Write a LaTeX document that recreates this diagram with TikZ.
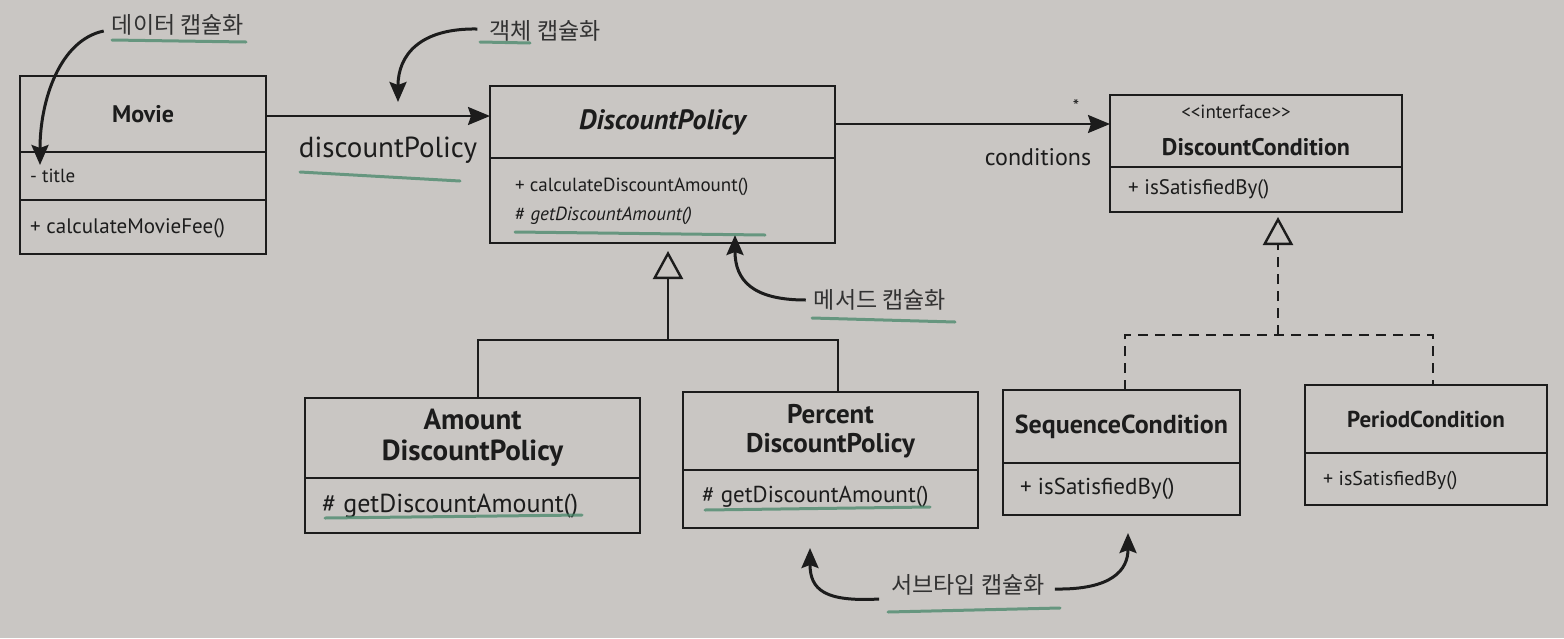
\documentclass[tikz,border=0pt]{standalone}
\usepackage{fontspec}
\setmainfont{PT Sans}
\newfontfamily\kr{Noto Sans CJK KR}
\usetikzlibrary{arrows.meta,calc}
\definecolor{bg}{RGB}{201,198,195}
\definecolor{ink}{RGB}{28,28,28}
\definecolor{kink}{RGB}{50,50,50}
\definecolor{hl}{RGB}{70,135,105}
\newcommand{\fs}[1]{\fontsize{#1}{#1}\selectfont}
\begin{document}
\begin{tikzpicture}[x=1pt,y=-1pt,
  comp/.style={draw=ink, line width=2.4pt, anchor=north west, inner sep=0pt, outer sep=0pt, text=ink},
  ctitle/.style={comp, font=\bfseries\fs{#1}},
  member/.style={anchor=west, inner sep=0pt, text=ink, font=\fs{#1}},
  kor/.style={inner sep=0pt, text=kink, font=\kr\fs{23}},
  lbl/.style={inner sep=0pt, text=ink, font=\fs{#1}},
  line/.style={draw=ink, line width=2.4pt},
  assoc/.style={line, -{Stealth[length=22pt,width=18pt,inset=3pt]}},
  gen/.style={line, -{Triangle[length=28pt,width=30pt,fill=bg]}},
  dline/.style={line, dash pattern=on 10pt off 7pt},
  curv/.style={draw=ink, line width=3pt, -{Stealth[length=20pt,width=17pt,inset=3pt]}},
  hlmark/.style={draw=hl, line width=3pt, opacity=0.75, line cap=round}
]
\useasboundingbox (0,0) rectangle (1564,638);
\fill[bg] (0,0) rectangle (1564,638);

% Movie
\node[ctitle=24, minimum width=246pt, minimum height=76pt] (movieT) at (20,76) {Movie};
\node[comp, minimum width=246pt, minimum height=48pt] (movieA) at (20,152) {};
\node[comp, minimum width=246pt, minimum height=54pt] (movieM) at (20,200) {};
\node[member=19] (movieA1) at (30,176) {- title};
\node[member=21] (movieM1) at (30,228) {+ calculateMovieFee()};

% DiscountPolicy
\node[comp, font=\bfseries\itshape\fs{28}, minimum width=345pt, minimum height=72pt] (dpT) at (490,86) {DiscountPolicy};
\node[comp, minimum width=345pt, minimum height=85pt] (dpM) at (490,158) {};
\node[member=19] (dpM1) at (515,187) {+ calculateDiscountAmount()};
\node[member=19] (dpM2) at (515,216) {\# \textit{getDiscountAmount()}};

% DiscountCondition
\node[comp, minimum width=292pt, minimum height=72pt] (dcT) at (1110,95) {};
\node[lbl=19] (dcS) at (1236,112) {{<}{<}interface{>}{>}};
\node[lbl=24, font=\bfseries\fs{24}] (dcN) at (1256,147) {DiscountCondition};
\node[comp, minimum width=292pt, minimum height=45pt] (dcM) at (1110,167) {};
\node[member=21] (dcM1) at (1128,189) {+ isSatisfiedBy()};

% AmountDiscountPolicy
\node[ctitle=29, align=center, minimum width=335pt, minimum height=80pt] (amT) at (305,398) {Amount\\[2pt]DiscountPolicy};
\node[comp, minimum width=335pt, minimum height=55pt] (amM) at (305,478) {};
\node[member=26] (amM1) at (322,506) {\# getDiscountAmount()};

% PercentDiscountPolicy
\node[ctitle=27, align=center, minimum width=295pt, minimum height=78pt] (peT) at (683,392) {Percent\\[2pt]DiscountPolicy};
\node[comp, minimum width=295pt, minimum height=58pt] (peM) at (683,470) {};
\node[member=23] (peM1) at (702,497) {\# getDiscountAmount()};

% SequenceCondition
\node[ctitle=26, minimum width=237pt, minimum height=73pt] (sqT) at (1003,390) {SequenceCondition};
\node[comp, minimum width=237pt, minimum height=52pt] (sqM) at (1003,463) {};
\node[member=23] (sqM1) at (1020,489) {+ isSatisfiedBy()};

% PeriodCondition
\node[ctitle=23, minimum width=242pt, minimum height=68pt] (prT) at (1305,385) {PeriodCondition};
\node[comp, minimum width=242pt, minimum height=52pt] (prM) at (1305,453) {};
\node[member=20] (prM1) at (1323,481) {+ isSatisfiedBy()};

% associations
\draw[assoc] ($(movieT.north east)+(0,40)$) -- ($(dpT.north west)+(0,30)$);
\node[lbl=29] (dpLbl) at (388,150) {discountPolicy};
\draw[assoc] ($(dpT.north east)+(0,38)$) -- ($(dcT.north west)+(0,29)$);
\node[lbl=18] (star) at (1076,106) {*};
\node[lbl=24] (condLbl) at (1038,157) {conditions};

% generalization
\coordinate (inhJ) at (668,340);
\draw[line] ($(amT.north west)+(173,0)$) |- (inhJ) -| ($(peT.north west)+(155,0)$);
\draw[gen, shorten >=8pt] (inhJ) -- (inhJ |- dpM.south);

% realization
\coordinate (reJ) at (1278,335);
\draw[dline] ($(sqT.north west)+(122,0)$) |- (reJ) -| ($(prT.north west)+(128,0)$);
\draw[gen, dash pattern=on 10pt off 7pt, shorten >=5pt] (reJ) -- (reJ |- dcM.south);

% annotations
\node[kor] (lblData) at (178,25) {데이터 캡슐화};
\coordinate (dataTip) at (40,165);
\draw[curv] ($(lblData.west)+(-8,6)$) .. controls (60,40) and (40,100) .. (dataTip);

\node[kor] (lblObj) at (545,31) {객체 캡슐화};
\coordinate (objTip) at (398,102);
\draw[curv] ($(lblObj.west)+(-12,-2)$) .. controls (420,28) and (398,55) .. (objTip);

\node[kor] (lblMeth) at (880,300) {메서드 캡슐화};
\coordinate (methTip) at (735,235);
\draw[curv] ($(lblMeth.west)+(-8,0)$) .. controls (752,300) and (735,280) .. (methTip);

\node[kor] (lblSub) at (968,585) {서브타입 캡슐화};
\coordinate (subTipL) at (810,548);
\coordinate (subTipR) at (1128,533);
\draw[curv] ($(lblSub.west)+(-12,14)$) .. controls (825,602) and (810,590) .. (subTipL);
\draw[curv] ($(lblSub.east)+(10,4)$) .. controls (1112,590) and (1128,570) .. (subTipR);

% green highlighter marks
\draw[hlmark] (112,40) -- (246,42);
\draw[hlmark] (480,42) -- (530,43);
\draw[hlmark] (300,172) -- (460,181);
\draw[hlmark] (515,232) -- (765,235);
\draw[hlmark] (812,318) -- (955,322);
\draw[hlmark] (325,518) -- (582,515);
\draw[hlmark] (705,510) -- (930,507);
\draw[hlmark] (888,612) -- (1060,608);
\end{tikzpicture}
\end{document}
